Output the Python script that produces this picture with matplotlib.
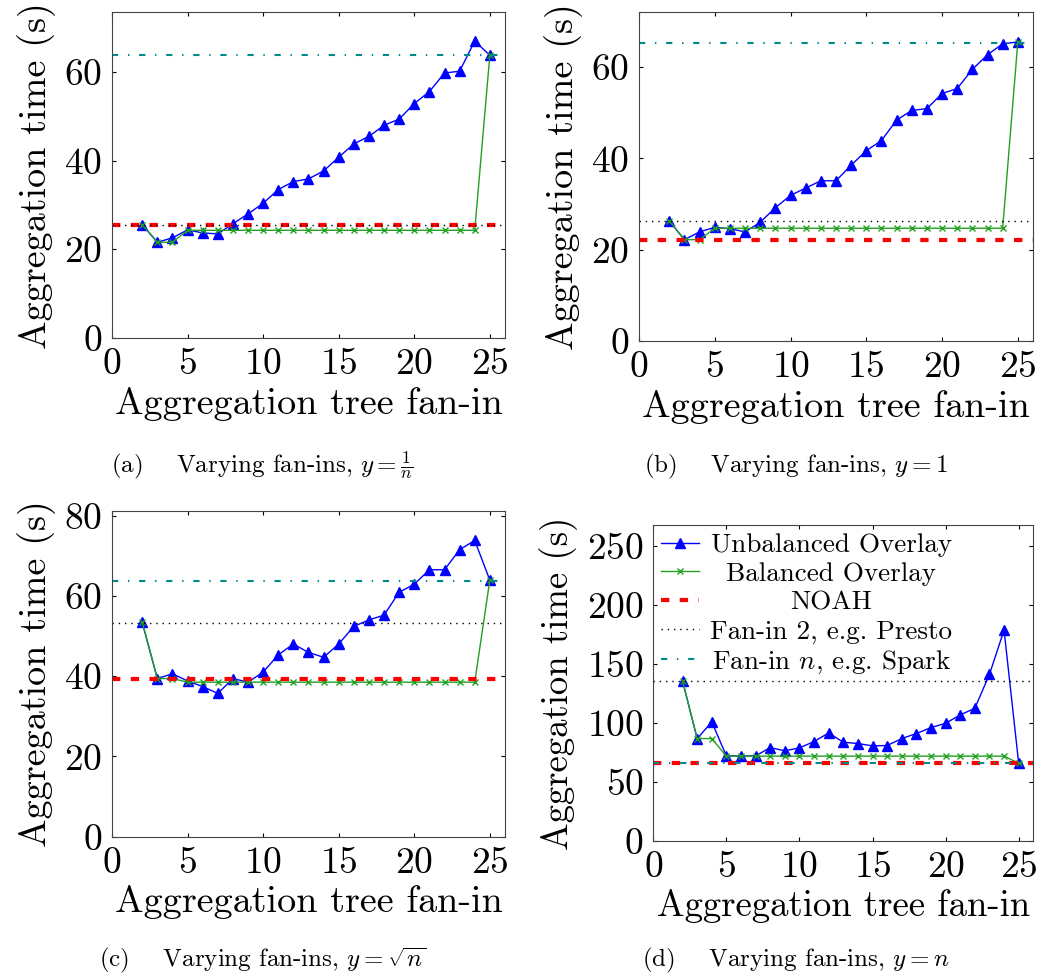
import matplotlib
matplotlib.use('Agg')
import matplotlib.pyplot as plt

plt.rcParams['font.family'] = ['cmr10']
plt.rcParams['mathtext.fontset'] = 'cm'
plt.rcParams['axes.formatter.use_mathtext'] = True
plt.rcParams['lines.scale_dashes'] = False

fanin = list(range(2, 26))

# (a) y = 1/n
unbal_a = [25.6, 21.6, 22.6, 24.4, 23.7, 23.5, 25.8, 28.0, 30.4, 33.5, 35.3, 35.9,
           37.7, 40.8, 43.8, 45.5, 48.0, 49.4, 52.9, 55.6, 59.8, 60.2, 67.0, 63.8]
bal_a = [25.6, 21.6, 21.6] + [24.3] * 20 + [63.8]
noah_a, presto_a, spark_a = 25.4, 25.6, 63.8

# (b) y = 1
unbal_b = [26.3, 22.2, 23.9, 24.9, 24.6, 23.9, 26.0, 29.2, 31.9, 33.5, 35.1, 35.1,
           38.5, 41.7, 43.9, 48.4, 50.5, 50.9, 54.2, 55.3, 59.5, 62.7, 65.1, 65.5]
bal_b = [26.3, 22.2, 22.2] + [24.7] * 20 + [65.5]
noah_b, presto_b, spark_b = 22.1, 26.2, 65.3

# (c) y = sqrt(n)
unbal_c = [53.4, 39.4, 40.6, 38.8, 37.4, 35.7, 39.4, 38.5, 41.0, 45.3, 48.0, 45.9,
           44.7, 48.0, 52.4, 54.0, 55.2, 60.9, 62.9, 66.5, 66.5, 71.5, 73.8, 63.9]
bal_c = [53.4, 39.4, 39.4] + [38.5] * 20 + [63.9]
noah_c, presto_c, spark_c = 39.3, 53.2, 63.8

# (d) y = n
unbal_d = [135.6, 86.7, 100.8, 72.0, 72.0, 72.0, 79.1, 76.3, 78.8, 84.2, 91.5, 83.6,
           82.5, 80.5, 80.8, 86.7, 91.0, 96.0, 99.7, 106.8, 112.4, 141.2, 178.8, 65.8]
bal_d = [135.6, 86.7, 86.7] + [71.8] * 20 + [65.8]
noah_d, presto_d, spark_d = 65.8, 135.6, 65.8

panels = [
    ([0.1078, 0.6537, 0.3782, 0.3337], unbal_a, bal_a, noah_a, presto_a, spark_a, 73.5, 20, 27.5),
    ([0.6150, 0.6506, 0.3792, 0.3368], unbal_b, bal_b, noah_b, presto_b, spark_b, 72.0, 20, 27.5),
    ([0.1078, 0.1427, 0.3782, 0.3340], unbal_c, bal_c, noah_c, presto_c, spark_c, 81.2, 20, 27.5),
    ([0.6288, 0.1386, 0.3657, 0.3235], unbal_d, bal_d, noah_d, presto_d, spark_d, 268.0, 50, 26.5),
]
captions = [
    (0.252, 0.516, r'(a)    Varying fan-ins, $y=\frac{1}{n}$'),
    (0.766, 0.516, r'(b)    Varying fan-ins, $y=1$'),
    (0.253, 0.010, r'(c)    Varying fan-ins, $y=\sqrt{n}$'),
    (0.766, 0.010, r'(d)    Varying fan-ins, $y=n$'),
]

fig = plt.figure(figsize=(10.39, 9.76), dpi=100)
axes = []
for rect, unbal, bal, noah, presto, spark, ymax, ystep, lsize in panels:
    ax = fig.add_axes(rect)
    ax.plot(fanin, unbal, color='#0000ff', marker='^', ms=7, lw=1, label='Unbalanced Overlay')
    ax.plot(fanin, bal, color='#22a022', marker='x', ms=4, mew=1, lw=1, label='Balanced Overlay')
    ax.axhline(noah, color='#ff0000', lw=3, dashes=(6, 7.5), label='NOAH')
    ax.axhline(presto, color='black', lw=1, dashes=(1, 3.5), label='Fan-in 2, e.g. Presto')
    ax.axhline(spark, color='#008b8b', lw=1.5, dashes=(4.5, 7, 1, 7), label=r'Fan-in $n$, e.g. Spark')
    ax.set_xlim(0, 26)
    ax.set_ylim(0, ymax)
    ax.set_xticks(range(0, 26, 5))
    ax.set_yticks(range(0, int(ymax) + 1, ystep))
    ax.tick_params(direction='in', top=True, right=True, length=3, labelsize=27, pad=7)
    ax.set_xlabel('Aggregation tree fan-in', fontsize=lsize, labelpad=4)
    ax.set_ylabel('Aggregation time (s)', fontsize=lsize, labelpad=6)
    for s in ax.spines.values():
        s.set_color('#444444')
    axes.append(ax)

for x, y, txt in captions:
    fig.text(x, y, txt, fontsize=18, ha='center', va='baseline')

leg = axes[3].legend(loc='upper left', fontsize=19.5, frameon=False, handlelength=1.4,
                     handletextpad=0.4, labelspacing=0.18, borderaxespad=0.0,
                     borderpad=0.3)
fig.canvas.draw()
r = fig.canvas.get_renderer()
widths = [t.get_window_extent(r).width for t in leg.get_texts()]
items = leg._legend_handle_box.get_children()[0].get_children()
for item, w in zip(items, widths):
    item.sep += (max(widths) - w) / 2 * 72 / fig.dpi

fig.savefig('out.png', dpi=100)
